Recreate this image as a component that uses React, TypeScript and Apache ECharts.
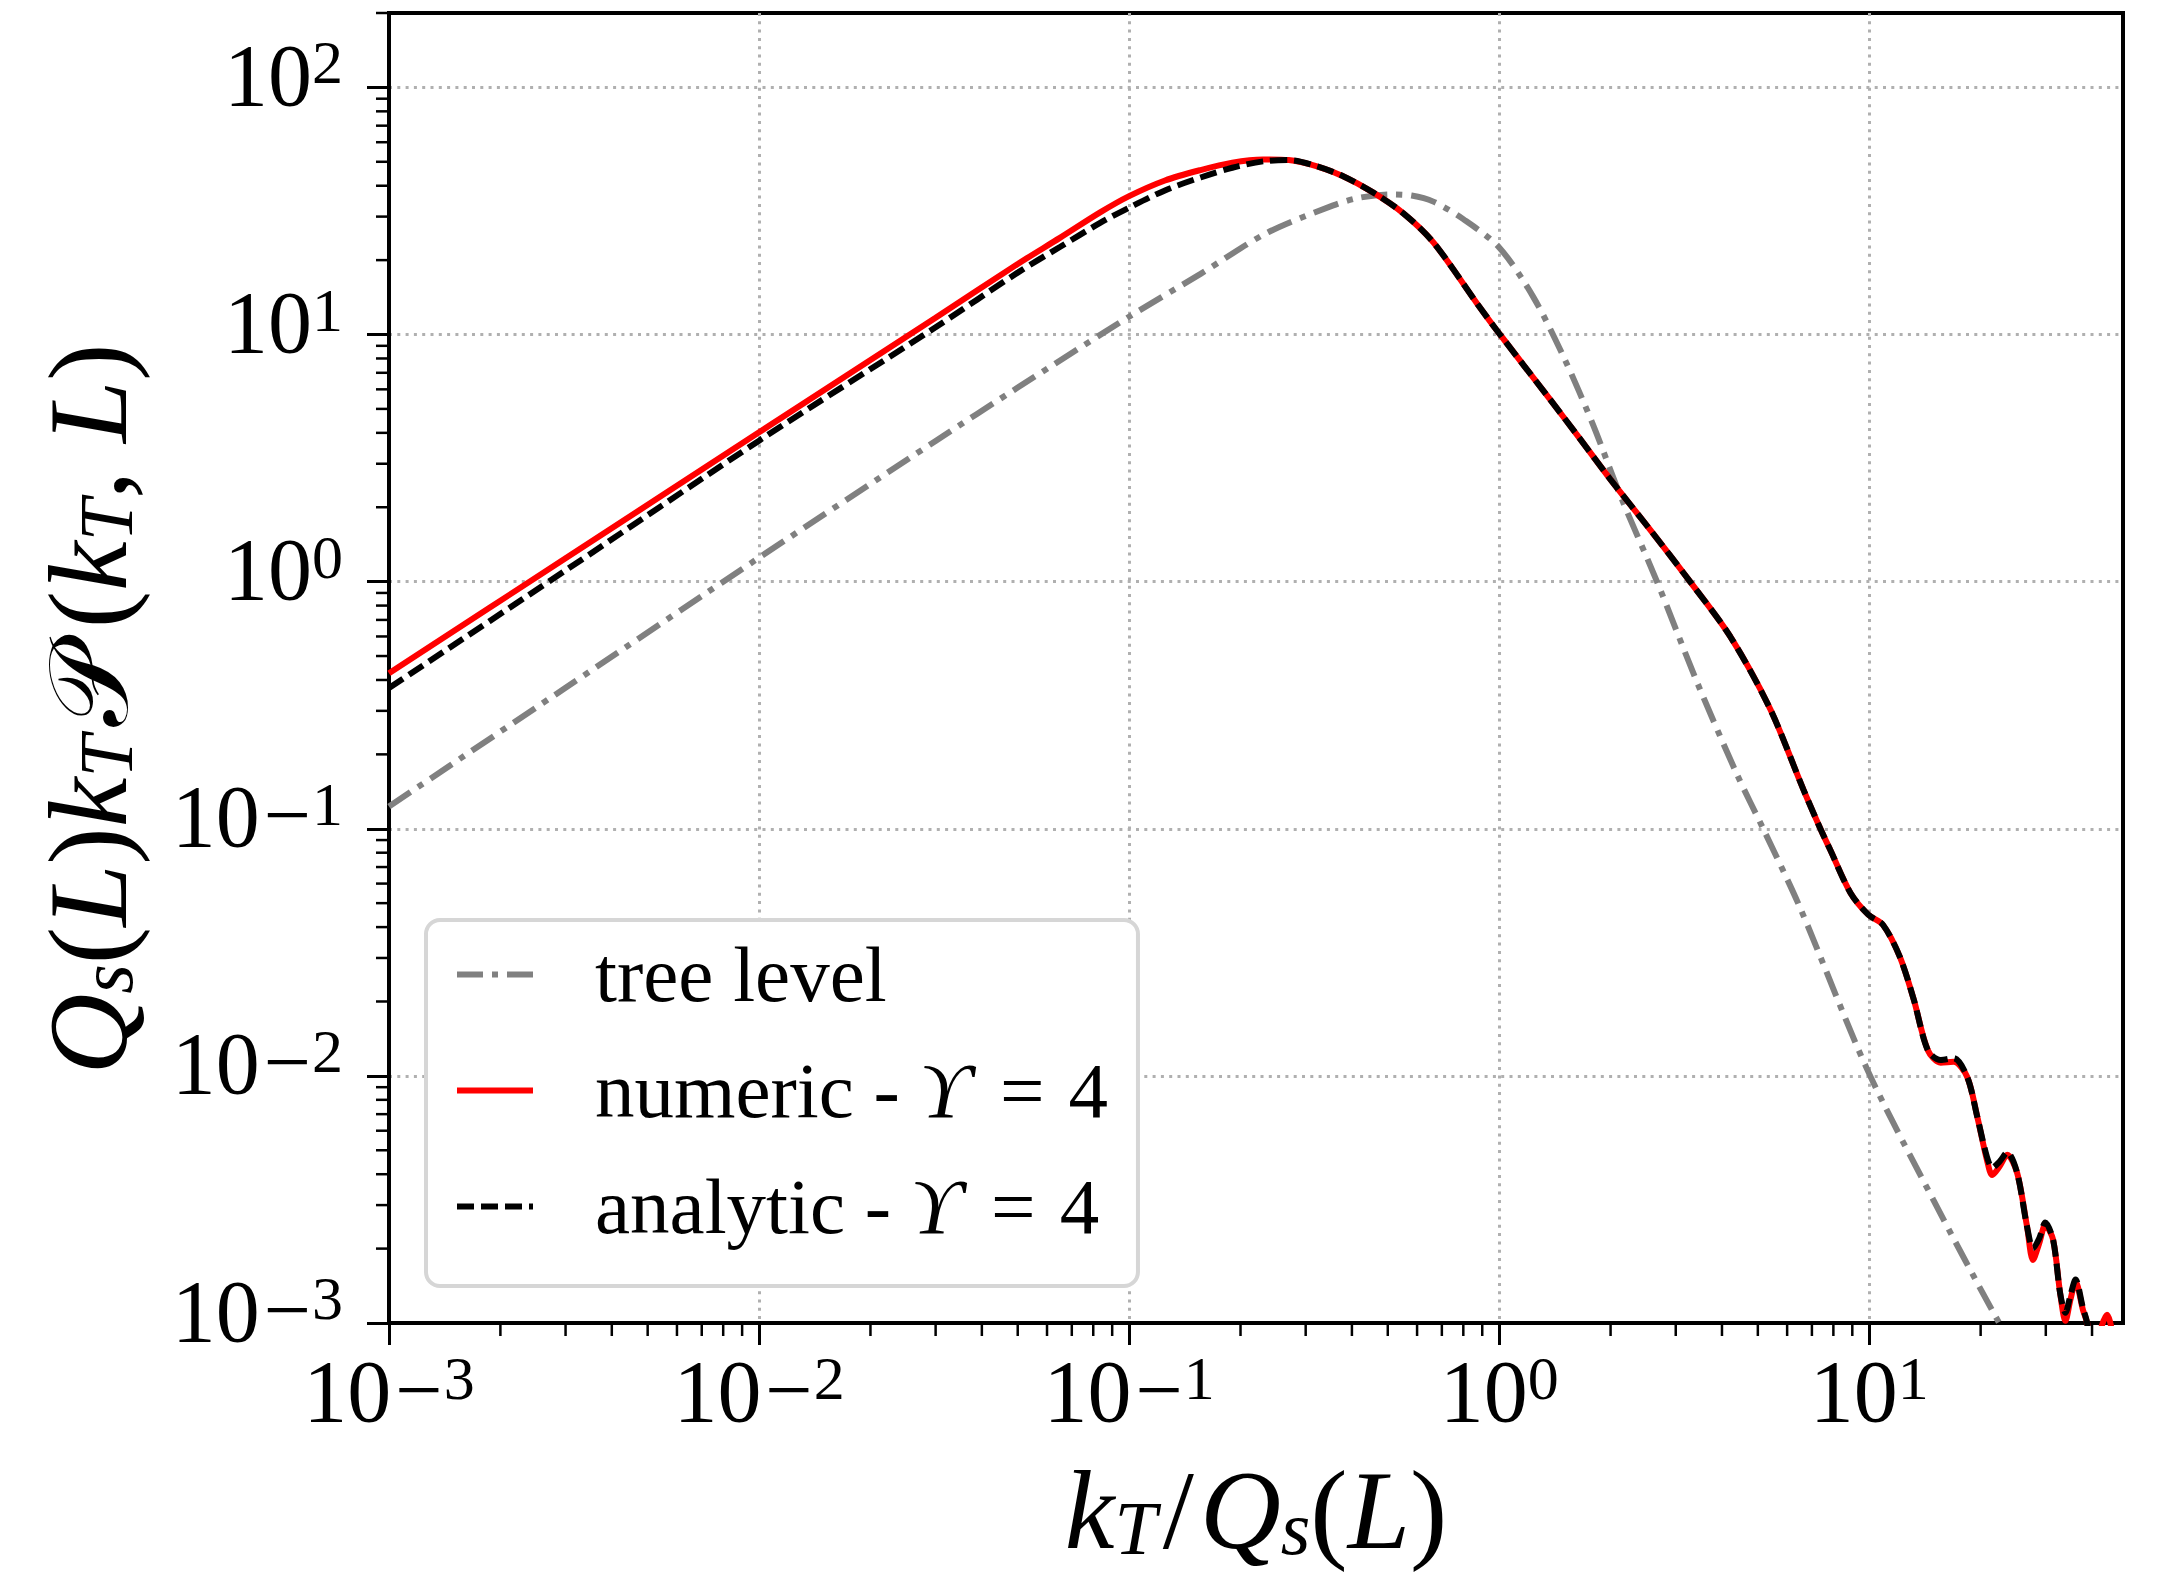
import React, { useEffect, useRef } from 'react';
import * as echarts from 'echarts';

// ---- axis ranges (data units) ----
const X_MIN = 0.001;
const X_MAX = 48.5;
const Y_MIN = 0.001;
const Y_MAX = 200;
const X_DECADES = [-3, -2, -1, 0, 1];
const Y_DECADES = [-3, -2, -1, 0, 1, 2];

// ---- series: tree level ----
const treeX = [0.001, 0.003, 0.01, 0.03, 0.05, 0.1, 0.156, 0.236, 0.356, 0.42, 0.507, 0.58, 0.664, 0.8, 1.0, 1.236, 1.5, 1.795, 2.12, 2.67, 3.43, 4.4, 5.17, 6.5, 9.88, 14.9, 22.2, 26];
const treeY = [0.123, 0.372, 1.25, 3.71, 6.1, 11.8, 17.6, 25.8, 33.3, 35.8, 36.9, 36.5, 34.5, 29.3, 22.5, 14.2, 8.0, 4.3, 2.25, 1.0, 0.39, 0.165, 0.1, 0.048, 0.0106, 0.00315, 0.00103, 0.0007];

// ---- series: numeric - Y = 4 ----
const numericX = [0.001, 0.003, 0.01, 0.03, 0.05, 0.065, 0.0835, 0.1, 0.125, 0.156, 0.19, 0.23, 0.27, 0.322, 0.38, 0.456, 0.55, 0.664, 0.873, 1.0, 1.374, 1.65, 1.995, 2.56, 3.28, 4.21, 5.4, 6.64, 7.38, 7.85, 8.9, 9.94, 10.9, 12.1, 13.2, 14.4, 15.6, 16.9, 18.4, 19.6, 20.8, 21.5, 22.5, 23.6, 25.1, 26.7, 27.7, 28.8, 29.9, 31.4, 32.8, 33.9, 35.0, 36.1, 37.8, 38.8, 40.5, 42.3, 43.9, 45.5, 47.5];
const numericY = [0.426, 1.243, 4.02, 11.7, 19.3, 24.6, 31.2, 36.3, 42.0, 46.3, 49.6, 51.1, 50.8, 47.9, 43.6, 37.6, 31.0, 23.6, 13.3, 10.1, 5.45, 3.8, 2.6, 1.62, 1.0, 0.6, 0.305, 0.144, 0.1, 0.082, 0.055, 0.0449, 0.0408, 0.0303, 0.0203, 0.0127, 0.0113, 0.0114, 0.0099, 0.0068, 0.00457, 0.00397, 0.0043, 0.00479, 0.00405, 0.00245, 0.0018, 0.0021, 0.00249, 0.00217, 0.00132, 0.00102, 0.00125, 0.00147, 0.00113, 0.001, 0.0007, 0.00095, 0.00108, 0.0009, 0.0006];

// ---- series: analytic - Y = 4 ----
const analyticX = [0.001, 0.003, 0.01, 0.03, 0.05, 0.065, 0.0835, 0.1, 0.125, 0.156, 0.19, 0.23, 0.27, 0.322, 0.38, 0.456, 0.55, 0.664, 0.873, 1.0, 1.374, 1.65, 1.995, 2.56, 3.28, 4.21, 5.4, 6.64, 7.38, 7.85, 8.9, 9.94, 10.9, 12.1, 13.2, 14.4, 15.6, 16.9, 18.4, 19.6, 20.8, 21.5, 22.5, 23.6, 25.1, 26.7, 27.7, 28.8, 29.9, 31.4, 32.8, 33.9, 35.0, 36.1, 37.8, 38.8, 40.5];
const analyticY = [0.371, 1.11, 3.72, 10.7, 17.8, 22.6, 28.3, 32.6, 38.3, 43.2, 47.3, 50.2, 50.8, 47.9, 43.6, 37.6, 31.0, 23.6, 13.3, 10.1, 5.45, 3.8, 2.6, 1.62, 1.0, 0.6, 0.305, 0.144, 0.1, 0.082, 0.055, 0.0449, 0.0408, 0.0303, 0.0203, 0.0127, 0.0116, 0.0118, 0.0099, 0.0068, 0.0047, 0.00425, 0.0045, 0.0049, 0.00405, 0.00245, 0.00201, 0.0022, 0.00255, 0.00217, 0.00132, 0.0011, 0.0013, 0.0015, 0.00115, 0.001, 0.0006];

const SERIES_NAMES = ['tree level', 'numeric - ϒ = 4', 'analytic - ϒ = 4'];

const SERIF = "'Liberation Serif', 'DejaVu Serif', serif";
const L10 = (v: number) => Math.log10(v);

const toPairs = (xs: number[], ys: number[]) => xs.map((x, i) => [L10(x), L10(ys[i])]);

function minorValues(decades: number[], maxVal: number) {
  const out: number[] = [];
  decades.forEach((d) => {
    for (let k = 2; k <= 9; k++) {
      const v = k * Math.pow(10, d);
      if (v <= maxVal * 1.0001) out.push(v);
    }
  });
  return out;
}

const supLabel = (v: number) => {
  if (Math.abs(v - Math.round(v)) > 1e-6) return '';
  const n = Math.round(v);
  if (n < 0) return `{b|10}{m|\u2212}{s|${-n}}`;
  return `{b|10}{s|${n}}`;
};

const tickRich = {
  b: { fontFamily: SERIF, fontSize: 88, fontWeight: 'normal', lineHeight: 112, verticalAlign: 'top', color: '#000' },
  m: { fontFamily: SERIF, fontSize: 84, fontWeight: 'normal', lineHeight: 62, verticalAlign: 'top', color: '#000', padding: [0, 1, 0, 4] },
  s: { fontFamily: SERIF, fontSize: 62, fontWeight: 'normal', lineHeight: 62, verticalAlign: 'top', color: '#000' },
};

const T_FS = 112;
const T_LH = 124;
const titleRich = {
  i: { fontFamily: SERIF, fontSize: T_FS, fontWeight: 'normal', fontStyle: 'italic', lineHeight: T_LH, verticalAlign: 'bottom', color: '#000' },
  n: { fontFamily: SERIF, fontSize: T_FS, fontWeight: 'normal', lineHeight: T_LH, verticalAlign: 'bottom', color: '#000' },
  sl: { fontFamily: SERIF, fontSize: T_FS, fontWeight: 'normal', lineHeight: T_LH, verticalAlign: 'bottom', color: '#000', padding: [0, 6, 0, 6] },
  sc: { fontFamily: "'DejaVu Serif', 'DejaVu Sans', serif", fontSize: T_FS, fontWeight: 'normal', lineHeight: T_LH, verticalAlign: 'bottom', color: '#000', padding: [0, 18, 0, 8] },
  si: { fontFamily: SERIF, fontSize: 76, fontWeight: 'normal', fontStyle: 'italic', lineHeight: 76, verticalAlign: 'bottom', color: '#000' },
  pad: { width: 82, fontSize: 20, lineHeight: T_LH, verticalAlign: 'bottom' },
};

const MINOR_LEN = 13;

export default function App() {
  const ref = useRef<HTMLDivElement>(null);
  useEffect(() => {
    if (!ref.current) return;
    const chart = echarts.init(ref.current, undefined, { renderer: 'svg' });
    const xMinL = L10(X_MIN);
    const yMinL = L10(Y_MIN);
    const xMinorData = minorValues(X_DECADES, X_MAX).map((v) => [L10(v), yMinL]);
    const yMinorData = minorValues(Y_DECADES, Y_MAX).map((v) => [xMinL, L10(v)]);

    const axisCommon = {
      type: 'value',
      interval: 1,
      axisLine: { show: true, onZero: false, lineStyle: { color: '#000', width: 4 } },
      axisTick: { show: true, length: 22, lineStyle: { color: '#000', width: 3 } },
      splitLine: { show: true, lineStyle: { color: '#b0b0b0', width: 3, type: [3, 5.3] } },
    };

    chart.setOption({
      animation: false,
      backgroundColor: '#ffffff',
      grid: {
        left: 389, right: 34, top: 13, bottom: 250,
        containLabel: false, outerBoundsMode: 'none',
        show: true, borderColor: '#000', borderWidth: 4, backgroundColor: 'transparent',
      },
      xAxis: {
        ...axisCommon,
        min: xMinL,
        max: L10(X_MAX),
        axisTick: { ...axisCommon.axisTick, customValues: X_DECADES },
        axisLabel: { customValues: X_DECADES, margin: 24, formatter: supLabel, rich: tickRich },
        name: '{i|k}{si|T}{sl|/}{i|Q}{si|s}{n|(}{i|L}{n|)}',
        nameLocation: 'middle',
        nameGap: 119,
        nameTextStyle: { rich: titleRich },
      },
      yAxis: {
        ...axisCommon,
        min: yMinL,
        max: L10(Y_MAX),
        axisTick: { ...axisCommon.axisTick, customValues: Y_DECADES },
        axisLabel: { customValues: Y_DECADES, margin: 46, formatter: supLabel, rich: tickRich },
        name: '{i|Q}{si|s}{n|(}{i|L}{n|)}{i|k}{si|T}{sc|𝒫}{n|(}{i|k}{si|T}{n|, }{i|L}{n|)}{pad| }',
        nameLocation: 'middle',
        nameRotate: 90,
        nameGap: 245,
        nameTextStyle: { rich: titleRich },
      },
      legend: {
        data: SERIES_NAMES,
        orient: 'vertical',
        left: 426,
        top: 920,
        padding: [15, 30, 40, 28],
        itemWidth: 76,
        itemHeight: 20,
        itemGap: 37,
        backgroundColor: '#ffffff',
        borderColor: '#d6d6d6',
        borderWidth: 4,
        borderRadius: 14,
        selectedMode: false,
        itemStyle: { opacity: 0, color: 'rgba(0,0,0,0)', borderWidth: 0 },
        lineStyle: { width: 6 },
        formatter: (name: string) => {
          if (name === 'tree level') return '{sp| }{t|tree level}';
          const prefix = name.startsWith('numeric') ? 'numeric' : 'analytic';
          return `{sp| }{t|${prefix} - }{it|ϒ}{eq|=}{t|4}`;
        },
        textStyle: {
          rich: {
            sp: { width: 57, fontSize: 20 },
            t: { fontFamily: SERIF, fontSize: 79, lineHeight: 90, color: '#000' },
            eq: { fontFamily: SERIF, fontSize: 79, lineHeight: 90, color: '#000', padding: [0, 24, 0, 30] },
            it: { fontFamily: SERIF, fontSize: 79, lineHeight: 90, fontStyle: 'italic', color: '#000' },
          },
        },
      },
      series: [
        {
          name: SERIES_NAMES[0], type: 'line', data: toPairs(treeX, treeY), symbol: 'none', smooth: 0.3,
          lineStyle: { color: '#808080', width: 6, type: [26, 9, 6, 9] }, itemStyle: { color: '#808080' }, z: 3,
        },
        {
          name: SERIES_NAMES[1], type: 'line', data: toPairs(numericX, numericY), symbol: 'none', smooth: 0.3,
          lineStyle: { color: '#ff0000', width: 6 }, itemStyle: { color: '#ff0000' }, z: 4,
        },
        {
          name: SERIES_NAMES[2], type: 'line', data: toPairs(analyticX, analyticY), symbol: 'none', smooth: 0.3,
          lineStyle: { color: '#000000', width: 6, type: [17, 7] }, itemStyle: { color: '#000000' }, z: 5,
        },
        {
          type: 'custom', silent: true, clip: false, z: 6, data: xMinorData,
          renderItem: (_p: any, api: any) => {
            const p = api.coord([api.value(0), api.value(1)]);
            return { type: 'line', shape: { x1: p[0], y1: p[1], x2: p[0], y2: p[1] + MINOR_LEN }, style: { stroke: '#000', lineWidth: 2.5 } };
          },
        },
        {
          type: 'custom', silent: true, clip: false, z: 6, data: yMinorData,
          renderItem: (_p: any, api: any) => {
            const p = api.coord([api.value(0), api.value(1)]);
            return { type: 'line', shape: { x1: p[0] - MINOR_LEN, y1: p[1], x2: p[0], y2: p[1] }, style: { stroke: '#000', lineWidth: 2.5 } };
          },
        },
      ],
    });
    return () => chart.dispose();
  }, []);
  return <div ref={ref} style={{ position: 'absolute', left: 0, top: 0, width: 2157, height: 1573, background: '#fff' }} />;
}
